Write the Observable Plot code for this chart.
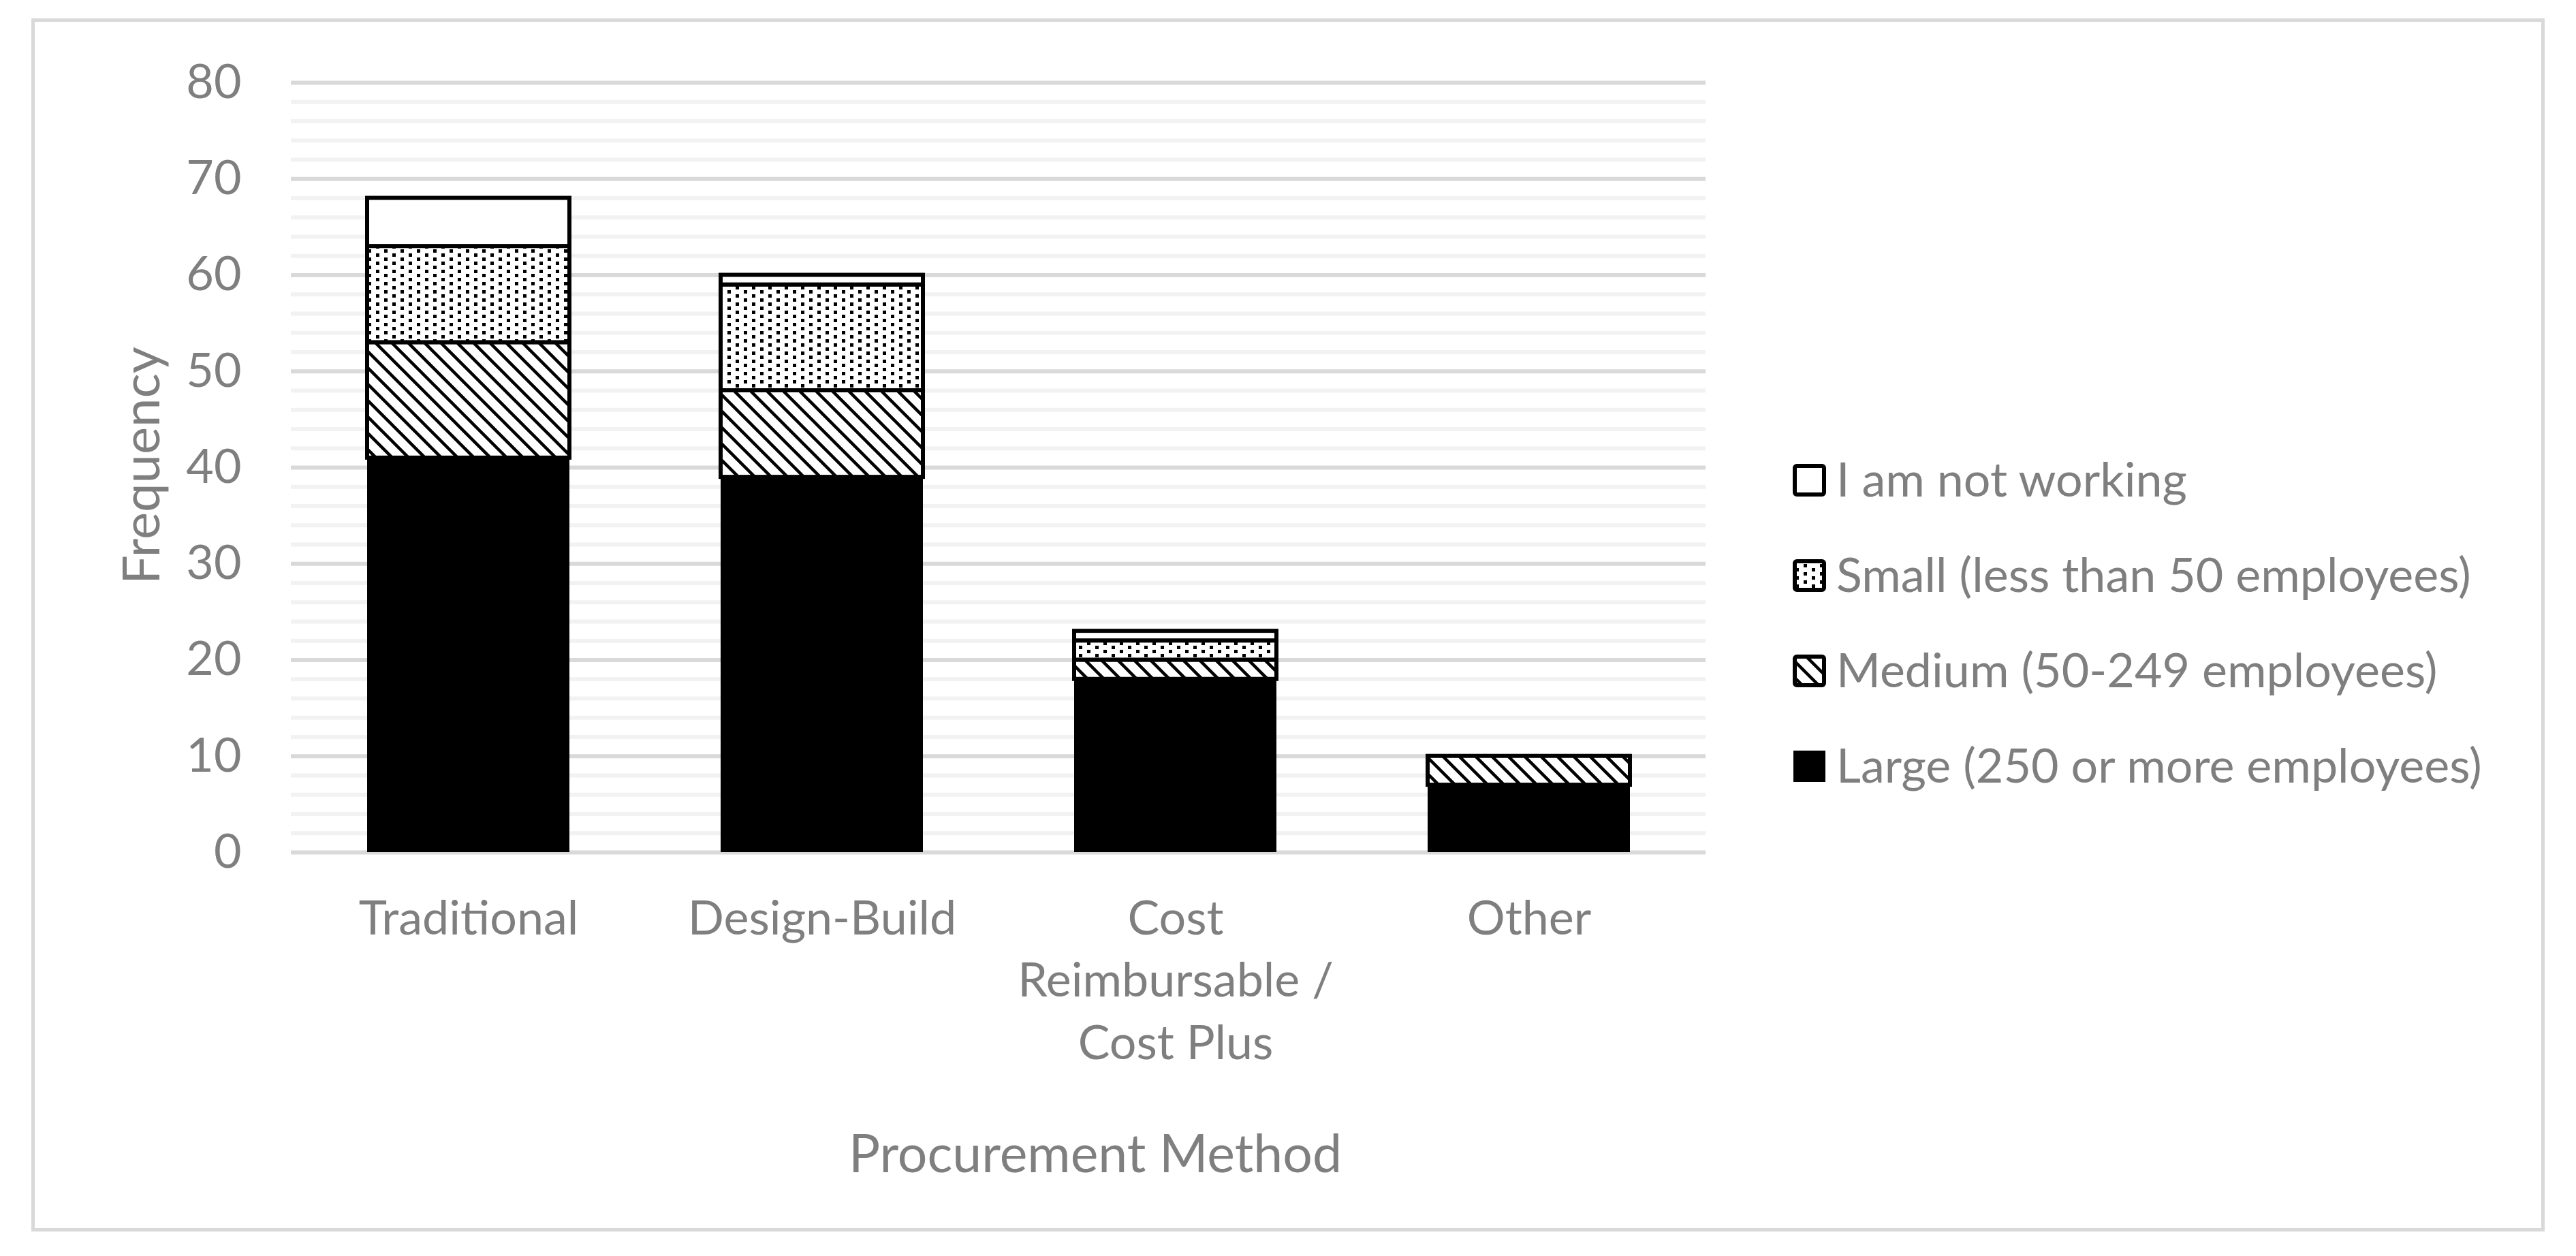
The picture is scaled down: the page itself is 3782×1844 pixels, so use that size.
<!DOCTYPE html>
<html>
<head>
<meta charset="utf-8">
<script src="https://cdn.jsdelivr.net/npm/d3@7"></script>
<script src="https://cdn.jsdelivr.net/npm/@observablehq/plot@0.6"></script>
<style>
  html, body { margin: 0; padding: 0; background: #fff; }
  #wrap { position: relative; width: 3782px; height: 1844px; background: #fff; overflow: hidden; font-family: Lato, sans-serif; }
  #frame { position: absolute; left: 46px; top: 27px; width: 3690px; height: 1781px; border: 5px solid #d9d9d9; box-sizing: border-box; pointer-events: none; }
  #chart { position: absolute; left: 0; top: 0; }
  #legend { position: absolute; left: 2600px; top: 600px; overflow: visible; }
  #defs { position: absolute; left: 0; top: 0; }
</style>
</head>
<body>
<div id="wrap">
  <svg id="defs" width="0" height="0">
    <defs>
      <pattern id="pSmall" patternUnits="userSpaceOnUse" width="24" height="12">
        <rect width="24" height="12" fill="white"/>
        <rect x="0" y="0" width="5" height="5" fill="black" shape-rendering="crispEdges"/>
        <rect x="12" y="6" width="5" height="5" fill="black" shape-rendering="crispEdges"/>
      </pattern>
      <pattern id="pMedium" patternUnits="userSpaceOnUse" width="24" height="24">
        <rect width="24" height="24" fill="white"/>
        <path d="M-6,-6L30,30M-6,18L6,30M18,-6L30,6" stroke="black" stroke-width="4.5"/>
      </pattern>
    </defs>
  </svg>
  <div id="chart"></div>
  <svg id="legend" width="1150" height="600"></svg>
  <div id="frame"></div>
</div>
<script>
// ---- data ----
const methods = ["Traditional", "Design-Build", "Cost Reimbursable / Cost Plus", "Other"];
const methodLabels = ["Traditional", "Design-Build", "Cost\nReimbursable /\nCost Plus", "Other"];
const sizes = ["Large (250 or more employees)", "Medium (50-249 employees)", "Small (less than 50 employees)", "I am not working"];
const large = [41, 39, 18, 7];
const medium = [12, 9, 2, 3];
const small = [10, 11, 2, 0];
const notWorking = [5, 1, 1, 0];
const yTicks = [0, 10, 20, 30, 40, 50, 60, 70, 80];
const yTitle = "Frequency";
const xTitle = "Procurement Method";

const sizeFills = ["black", "url(#pMedium)", "url(#pSmall)", "white"];
const sizeStrokes = ["none", "black", "black", "black"];

const seriesValues = [large, medium, small, notWorking];
const rows = [];
methods.forEach((m, i) => {
  sizes.forEach((s, j) => rows.push({method: m, size: s, count: seriesValues[j][i]}));
});
const fillOf = new Map(sizes.map((s, j) => [s, sizeFills[j]]));
const strokeOf = new Map(sizes.map((s, j) => [s, sizeStrokes[j]]));
const minorTicks = d3.range(0, 81, 2).filter(v => v % 10 !== 0);

const textColor = "#7f7f7f";
const fs = 70;

const chart = Plot.plot({
  width: 3782,
  height: 1844,
  marginLeft: 427,
  marginRight: 1278,
  marginTop: 121,
  marginBottom: 593,
  style: {fontFamily: "Lato, sans-serif", fontSize: fs + "px", color: textColor, background: "transparent", overflow: "visible"},
  x: {domain: methods, axis: null, paddingInner: 0.428, paddingOuter: 0.214},
  y: {domain: [0, 80], axis: null},
  color: {type: "identity"},
  marks: [
    Plot.ruleY(minorTicks, {stroke: "#f2f2f2", strokeWidth: 6}),
    Plot.ruleY(yTicks, {stroke: "#d9d9d9", strokeWidth: 6}),
    Plot.barY(rows, {
      x: "method", y: "count", z: "size", order: sizes,
      fill: d => fillOf.get(d.size),
      stroke: d => strokeOf.get(d.size),
      strokeWidth: 6
    }),
    Plot.text(yTicks, {y: d => d, text: d => String(d), frameAnchor: "left", textAnchor: "end", lineAnchor: "middle", dx: -73, fontSize: fs, fill: textColor}),
    Plot.text(methods, {x: d => d, text: (d, i) => methodLabels[i], frameAnchor: "bottom", lineAnchor: "top", textAnchor: "middle", dy: 55, lineHeight: 1.31, fontSize: fs, fill: textColor}),
    Plot.text([yTitle], {frameAnchor: "left", text: d => d, rotate: -90, dx: -194, dy: -3, textAnchor: "middle", lineAnchor: "bottom", fontSize: 76, fill: textColor}),
    Plot.text([xTitle], {frameAnchor: "bottom", text: d => d, dx: 142, dy: 469, textAnchor: "middle", lineAnchor: "bottom", fontSize: 77, fill: textColor})
  ]
});
document.getElementById("chart").appendChild(chart);

// ---- legend (top to bottom: reverse of stacking order) ----
const legend = d3.select("#legend");
const legendOrder = sizes.map((s, j) => j).reverse();
legendOrder.forEach((j, k) => {
  const cy = 105 + k * 140; // relative to legend top (600)
  const g = legend.append("g");
  if (j === 0) {
    g.append("rect").attr("x", 33).attr("y", cy - 23).attr("width", 47).attr("height", 46).attr("fill", "black");
  } else {
    g.append("rect").attr("x", 35).attr("y", cy - 21).attr("width", 43).attr("height", 42)
      .attr("fill", sizeFills[j]).attr("stroke", "black").attr("stroke-width", 6).attr("rx", 3);
  }
  g.append("text").attr("x", 96).attr("y", cy + 24)
    .attr("font-family", "Lato, sans-serif").attr("font-size", fs).attr("fill", textColor)
    .text(sizes[j]);
});
</script>
</body>
</html>
